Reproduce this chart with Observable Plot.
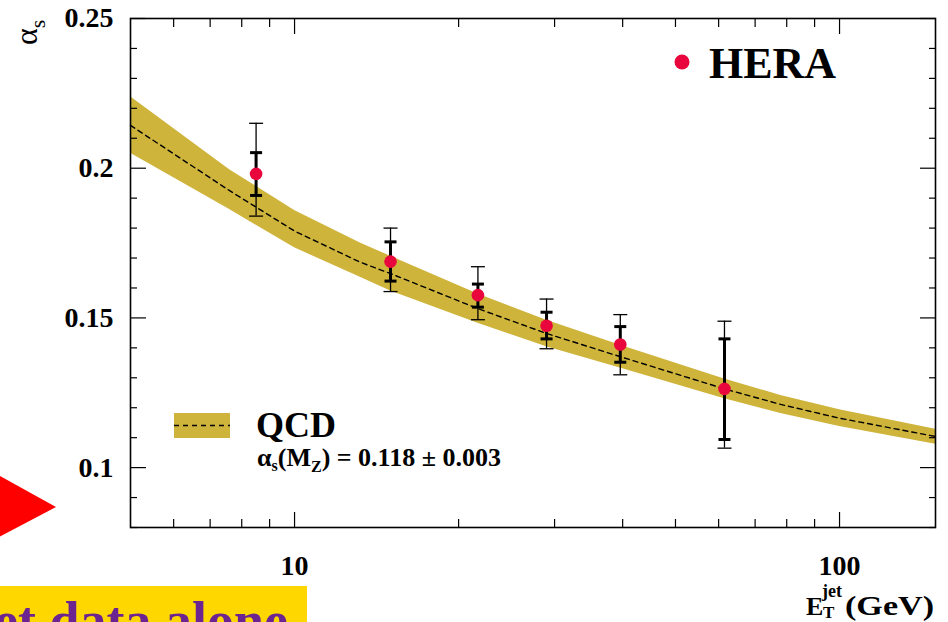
<!DOCTYPE html>
<html>
<head>
<meta charset="utf-8">
<script src="https://cdn.jsdelivr.net/npm/d3@7"></script>
<script src="https://cdn.jsdelivr.net/npm/@observablehq/plot@0.6"></script>
<style>
  html, body { margin: 0; padding: 0; background: #fff; overflow: hidden; }
  #chart { position: relative; width: 948px; height: 622px; }
</style>
</head>
<body>
<div id="chart"></div>
<script>
// ---- QCD band ----
const bandE   = [5, 7.6, 10, 13.2, 15, 21.7, 29, 40, 61.5, 78, 100, 150];
const bandLo  = [0.2050, 0.1862, 0.1734, 0.1636, 0.1590, 0.1482, 0.1404, 0.1330, 0.1230, 0.1181, 0.1137, 0.1078];
const bandMid = [0.2143, 0.1925, 0.1790, 0.1686, 0.1648, 0.1531, 0.1448, 0.1368, 0.1263, 0.1211, 0.1165, 0.1104];
const bandHi  = [0.2239, 0.1995, 0.1859, 0.1750, 0.1706, 0.1580, 0.1492, 0.1406, 0.1296, 0.1241, 0.1193, 0.1128];

// ---- HERA measurements ----
const heraE  = [8.5, 15, 21.7, 29, 39.6, 61.5];
const heraA  = [0.1981, 0.1688, 0.1576, 0.1474, 0.1411, 0.1263];
const statLo = [0.1909, 0.1623, 0.1536, 0.1430, 0.1352, 0.1094];
const statHi = [0.2052, 0.1754, 0.1613, 0.1519, 0.1471, 0.1430];
const totLo  = [0.1840, 0.1588, 0.1494, 0.1397, 0.1310, 0.1065];
const totHi  = [0.2150, 0.1800, 0.1671, 0.1563, 0.1511, 0.1489];

// ---- ticks ----
const xMajor = [10, 100];
const xMinor = [6, 7, 8, 9, 20, 30, 40, 50, 60, 70, 80, 90];
const yMajor = [0.1, 0.15, 0.2, 0.25];
const yMinor = [0.08, 0.09, 0.11, 0.12, 0.13, 0.14, 0.16, 0.17, 0.18, 0.19, 0.21, 0.22, 0.23, 0.24];
const yTickLabels = ["0.1", "0.15", "0.2", "0.25"];

const band = bandE.map((e, i) => ({e, lo: bandLo[i], mid: bandMid[i], hi: bandHi[i]}));
const hera = heraE.map((e, i) => ({e, a: heraA[i], sLo: statLo[i], sHi: statHi[i], tLo: totLo[i], tHi: totHi[i]}));

const SERIF = "'Liberation Serif', 'DejaVu Serif', serif";
const RED = "#e8063c";
const GOLD = "#cfb43c";

const hline = { draw(ctx, size) { const w = Math.sqrt(size / Math.PI); ctx.moveTo(-w, 0); ctx.lineTo(w, 0); } };

const plot = Plot.plot({
  width: 948,
  height: 622,
  marginLeft: 130,
  marginRight: 13,
  marginTop: 18,
  marginBottom: 95,
  style: {fontFamily: SERIF, background: "#fff", overflow: "hidden"},
  x: {type: "log", domain: [5, 150]},
  y: {domain: [0.08, 0.25]},
  marks: [
    Plot.areaY(band, {x: "e", y1: "lo", y2: "hi", fill: GOLD}),
    Plot.line(band, {x: "e", y: "mid", stroke: "#000", strokeWidth: 1.4, strokeDasharray: "5,4"}),
    // total error
    Plot.ruleX(hera, {x: "e", y1: "tLo", y2: "tHi", stroke: "#000", strokeWidth: 1.3}),
    Plot.dot(hera, {x: "e", y: "tLo", symbol: hline, r: 7, stroke: "#000", strokeWidth: 1.3}),
    Plot.dot(hera, {x: "e", y: "tHi", symbol: hline, r: 7, stroke: "#000", strokeWidth: 1.3}),
    // stat error
    Plot.ruleX(hera, {x: "e", y1: "sLo", y2: "sHi", stroke: "#000", strokeWidth: 3}),
    Plot.dot(hera, {x: "e", y: "sLo", symbol: hline, r: 6, stroke: "#000", strokeWidth: 3}),
    Plot.dot(hera, {x: "e", y: "sHi", symbol: hline, r: 6, stroke: "#000", strokeWidth: 3}),
    Plot.dot(hera, {x: "e", y: "a", r: 6.3, fill: RED}),
    // inward ticks
    Plot.axisX(xMajor, {anchor: "bottom", tickSize: -15, tickFormat: () => "", label: null, strokeWidth: 1.2}),
    Plot.axisX(xMinor, {anchor: "bottom", tickSize: -8, tickFormat: () => "", label: null, strokeWidth: 1.2}),
    Plot.axisX(xMajor, {anchor: "top", tickSize: -15, tickFormat: () => "", label: null, strokeWidth: 1.2}),
    Plot.axisX(xMinor, {anchor: "top", tickSize: -8, tickFormat: () => "", label: null, strokeWidth: 1.2}),
    Plot.axisY(yMajor, {anchor: "left", tickSize: -16, tickFormat: () => "", label: null, strokeWidth: 1.2}),
    Plot.axisY(yMinor, {anchor: "left", tickSize: -7, tickFormat: () => "", label: null, strokeWidth: 1.2}),
    Plot.axisY(yMajor, {anchor: "right", tickSize: -16, tickFormat: () => "", label: null, strokeWidth: 1.2}),
    Plot.axisY(yMinor, {anchor: "right", tickSize: -7, tickFormat: () => "", label: null, strokeWidth: 1.2}),
    // tick labels
    Plot.axisX(xMajor, {anchor: "bottom", tickSize: 0, tickPadding: 28, tickFormat: d => String(d), label: null,
      fontSize: 28, fontWeight: "bold", fill: "#000"}),
    Plot.axisY(yMajor, {anchor: "left", tickSize: 0, tickPadding: 17, tickFormat: (d, i) => yTickLabels[i], label: null,
      fontSize: 28, fontWeight: "bold", fill: "#000"}),
    Plot.frame({stroke: "#000", strokeWidth: 1.6})
  ]
});

document.getElementById("chart").appendChild(plot);

const svg = d3.select(plot);
const g = svg.append("g").attr("font-family", SERIF).attr("text-anchor", "start").attr("fill", "#000");

// Slide decorations cut off at the edges
g.append("polygon").attr("points", "-20,465 56,507 -20,547").attr("fill", "#ff0000");
g.append("rect").attr("x", 0).attr("y", 586).attr("width", 307).attr("height", 40).attr("fill", "#ffd700");
g.append("text").attr("x", 288).attr("y", 639).attr("text-anchor", "end")
  .attr("font-size", 54).attr("font-weight", "bold").attr("fill", "#6c2490").text("et data alone");

// Y axis label  α_s
const yl = g.append("text").attr("transform", "translate(37,45) rotate(-90)")
  .attr("font-size", 32).attr("fill", "#000");
yl.append("tspan").text("α");
yl.append("tspan").attr("font-size", 22).attr("dy", 8).text("s");

// X axis label  E_T^jet (GeV)
g.append("text").attr("x", 806).attr("y", 615).attr("font-size", 26).attr("font-weight", "bold").text("E");
g.append("text").attr("x", 822).attr("y", 597).attr("font-size", 18).attr("font-weight", "bold").text("jet");
g.append("text").attr("x", 823).attr("y", 618).attr("font-size", 17).attr("font-weight", "bold").text("T");
g.append("text").attr("x", 845).attr("y", 615).attr("font-size", 27).attr("font-weight", "bold")
  .attr("textLength", 89).attr("lengthAdjust", "spacingAndGlyphs").text("(GeV)");

// HERA legend
g.append("circle").attr("cx", 682).attr("cy", 62).attr("r", 7.5).attr("fill", RED);
g.append("text").attr("x", 709).attr("y", 78).attr("font-size", 44).attr("font-weight", "bold").text("HERA");

// QCD legend
g.append("rect").attr("x", 174).attr("y", 413).attr("width", 56).attr("height", 25).attr("fill", GOLD);
g.append("line").attr("x1", 174).attr("x2", 230).attr("y1", 425.5).attr("y2", 425.5)
  .attr("stroke", "#000").attr("stroke-width", 1.4).attr("stroke-dasharray", "5,4");
g.append("text").attr("x", 256).attr("y", 437).attr("font-size", 36).attr("font-weight", "bold").text("QCD");
const sub = g.append("text").attr("x", 257).attr("y", 466).attr("font-size", 26).attr("font-weight", "bold");
sub.append("tspan").text("α");
sub.append("tspan").attr("font-size", 16).attr("dy", 5).text("s");
sub.append("tspan").attr("dy", -5).text("(M");
sub.append("tspan").attr("font-size", 16).attr("dy", 6).text("Z");
sub.append("tspan").attr("dy", -6).text(") = 0.118 ± 0.003");
</script>
</body>
</html>
